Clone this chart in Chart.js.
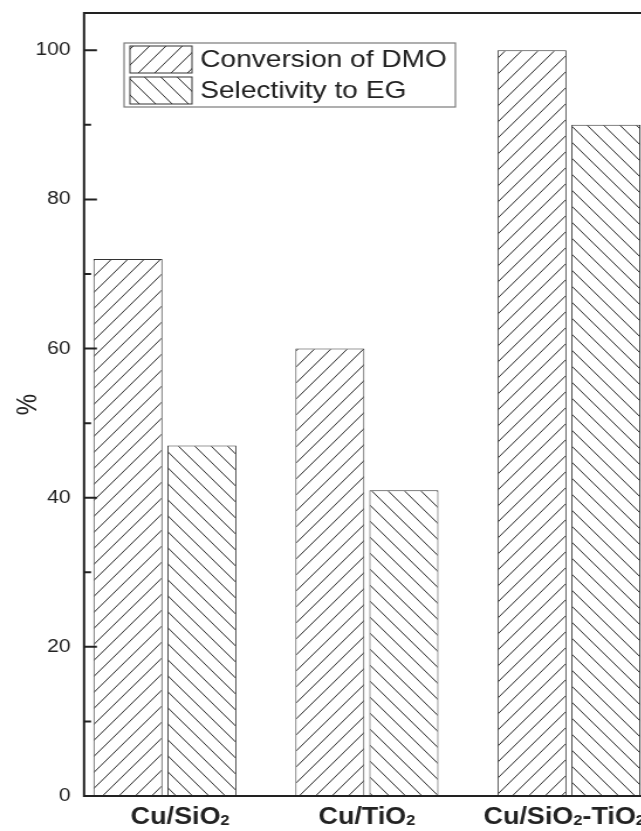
<!DOCTYPE html>
<html>
<head>
<meta charset="utf-8">
<script src="https://cdn.jsdelivr.net/npm/chart.js@4.4.0/dist/chart.umd.min.js"></script>
<style>
  html, body { margin: 0; padding: 0; background: #fff; overflow: hidden; width: 641px; height: 831px; }
  #c { display: block; }
</style>
</head>
<body>
<!-- the drawing is widened horizontally a little, text included -->
<canvas id="c" width="580" height="831" style="width:678.6px;height:831px"></canvas>
<script>
// Catalyst performance data
const categories = ['Cu/SiO2', 'Cu/TiO2', 'Cu/SiO2-TiO2'];
const seriesNames = ['Conversion of DMO', 'Selectivity to EG'];
const conversion = [72, 60, 100];
const selectivity = [47, 41, 90];
const yMajorTicks = [0, 20, 40, 60, 80, 100];

const INK = '#222';
const FONT = "'Liberation Sans', Arial, Helvetica, sans-serif";
Chart.defaults.font.family = FONT;
Chart.defaults.color = INK;

const canvas = document.getElementById('c');
const ctx = canvas.getContext('2d');

// diagonal hatch fills: dir > 0 -> "////", dir < 0 -> "\\\\"
function hatch(dir) {
  const w = 14, h = 16;
  const t = document.createElement('canvas');
  t.width = w; t.height = h;
  const g = t.getContext('2d');
  g.fillStyle = '#fff';
  g.fillRect(0, 0, w, h);
  g.strokeStyle = '#2b2b2b';
  g.lineWidth = 1;
  g.beginPath();
  for (const k of [-1, 0, 1]) {
    if (dir > 0) { g.moveTo(k * w, h); g.lineTo(k * w + w, 0); }
    else { g.moveTo(k * w, 0); g.lineTo(k * w + w, h); }
  }
  g.stroke();
  return ctx.createPattern(t, 'repeat');
}

const fills = [hatch(1), hatch(-1)];
const xs = categories.map((_, i) => i + 1);

// frame, inward y ticks, category labels with subscripts, boxed legend
const decor = {
  id: 'decor',
  afterDatasetsDraw(chart) {
    const c = chart.ctx;
    const a = chart.chartArea;
    const ys = chart.scales.y;
    const xsS = chart.scales.x;
    c.save();

    // legend
    const bx = a.left + 34.2, by = 43, bw = 283, bh = 64;
    c.fillStyle = '#fff';
    c.fillRect(bx, by, bw, bh);
    c.strokeStyle = '#7a7a7a';
    c.lineWidth = 1.2;
    c.strokeRect(bx, by, bw, bh);
    const rowsY = [46, 77];
    chart.data.datasets.forEach((ds, i) => {
      const px = bx + 5, py = rowsY[i], pw = 53, ph = 27;
      c.fillStyle = ds.backgroundColor;
      c.fillRect(px, py, pw, ph);
      c.strokeStyle = '#333';
      c.lineWidth = 1;
      c.strokeRect(px, py, pw, ph);
      c.fillStyle = INK;
      c.font = '24px ' + FONT;
      c.textAlign = 'left';
      c.textBaseline = 'middle';
      c.fillText(ds.label, bx + 65, py + ph / 2 + 1);
    });

    // frame
    c.strokeStyle = INK;
    c.lineWidth = 2;
    c.strokeRect(a.left, a.top, a.right - a.left, a.bottom - a.top);

    // inward ticks on the left axis, minor every 10
    c.lineWidth = 2;
    c.beginPath();
    for (let v = 0; v <= 100; v += 10) {
      const y = ys.getPixelForValue(v);
      const len = yMajorTicks.includes(v) ? 11 : 6;
      c.moveTo(a.left, y);
      c.lineTo(a.left + len, y);
    }
    c.stroke();

    // category labels, digits as subscripts
    const nudge = [13, 0, -4];
    categories.forEach((txt, i) => {
      const cx = xsS.getPixelForValue(xs[i]) + nudge[i];
      const runs = [];
      for (const ch of txt) {
        const sub = /\d/.test(ch);
        const last = runs[runs.length - 1];
        if (last && last.sub === sub) last.t += ch; else runs.push({ t: ch, sub });
      }
      let total = 0;
      runs.forEach(r => {
        c.font = (r.sub ? 'bold 14px ' : 'bold 23px ') + FONT;
        r.w = c.measureText(r.t).width;
        total += r.w;
      });
      let x = cx - total / 2;
      c.fillStyle = INK;
      c.textAlign = 'left';
      c.textBaseline = 'alphabetic';
      runs.forEach(r => {
        c.font = (r.sub ? 'bold 14px ' : 'bold 23px ') + FONT;
        c.fillText(r.t, x, r.sub ? 825 : 824);
        x += r.w;
      });
    });

    c.restore();
  }
};

new Chart(ctx, {
  type: 'bar',
  data: {
    datasets: [
      {
        label: seriesNames[0],
        data: xs.map((x, i) => ({ x, y: conversion[i] })),
        backgroundColor: fills[0],
        borderColor: '#333',
        borderWidth: 1
      },
      {
        label: seriesNames[1],
        data: xs.map((x, i) => ({ x, y: selectivity[i] })),
        backgroundColor: fills[1],
        borderColor: '#333',
        borderWidth: 1
      }
    ]
  },
  options: {
    responsive: false,
    animation: false,
    devicePixelRatio: 1,
    categoryPercentage: 0.7323,
    barPercentage: 0.9335,
    layout: { padding: { top: 13, right: 25, left: 0, bottom: 0 } },
    plugins: {
      legend: { display: false },
      tooltip: { enabled: false }
    },
    scales: {
      x: {
        type: 'linear',
        min: 0.6,
        max: 3.4,
        offset: false,
        grid: { display: false, drawTicks: false },
        border: { display: false },
        ticks: { display: false },
        // one tick per catalyst so bar widths follow the category spacing
        afterBuildTicks(s) { s.ticks = xs.map(v => ({ value: v })); },
        afterFit(s) {
          s.height = 35;
          s.paddingLeft = 0; s.paddingRight = 0;
        }
      },
      y: {
        min: 0,
        max: 105,
        grid: { display: false, drawTicks: false },
        border: { display: false },
        ticks: {
          stepSize: 20,
          includeBounds: false,
          padding: 11.5,
          color: INK,
          font: { size: 18 }
        },
        title: {
          display: true,
          text: '%',
          color: INK,
          font: { size: 24 },
          padding: { top: 10, bottom: 0 }
        },
        afterFit(s) {
          s.width = 71.8;
          s.paddingTop = 0; s.paddingBottom = 0;
        }
      }
    }
  },
  plugins: [decor]
});
</script>
</body>
</html>
